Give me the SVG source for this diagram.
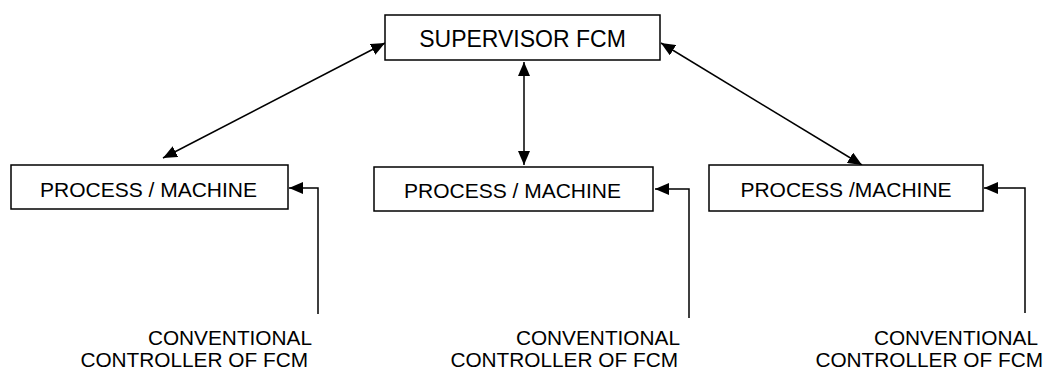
<svg xmlns="http://www.w3.org/2000/svg" width="1047" height="371" viewBox="0 0 1047 371">
<style>
.box{fill:#fff;stroke:#000;stroke-width:1.5}
.lbl{font-family:"Liberation Sans",Arial,sans-serif;fill:#000}
.bt{font-size:21px;text-anchor:middle}
.ct{font-size:20.8px;text-anchor:end}
.con{fill:none;stroke:#000;stroke-width:1.5}
</style>
<defs>
<marker id="ah" markerUnits="userSpaceOnUse" markerWidth="15" markerHeight="12" refX="14" refY="6" orient="auto-start-reverse" viewBox="0 0 15 12">
<path d="M0,0 L14,6 L0,12 z" fill="#000"/>
</marker>
</defs>
<rect width="1047" height="371" fill="#fff"/>
<g id="connectors">
<line class="con" x1="385" y1="43" x2="163" y2="158" marker-start="url(#ah)" marker-end="url(#ah)"/>
<line class="con" x1="524" y1="62" x2="524" y2="165" marker-start="url(#ah)" marker-end="url(#ah)"/>
<line class="con" x1="661" y1="43" x2="862" y2="165" marker-start="url(#ah)" marker-end="url(#ah)"/>
<polyline class="con" points="318,314 318,188 289,188" marker-end="url(#ah)"/>
<polyline class="con" points="689,318 689,189 655,189" marker-end="url(#ah)"/>
<polyline class="con" points="1025,313 1025,188 984,188" marker-end="url(#ah)"/>
</g>
<g id="supervisor">
<rect class="box" x="385" y="15" width="275" height="45"/>
<text class="lbl bt" x="522.5" y="47" style="font-size:23px">SUPERVISOR FCM</text>
</g>
<g id="process1">
<rect class="box" x="11" y="165" width="277" height="44"/>
<text class="lbl bt" x="148.5" y="197">PROCESS / MACHINE</text>
</g>
<g id="process2">
<rect class="box" x="374" y="167" width="279" height="44"/>
<text class="lbl bt" x="512.5" y="198">PROCESS / MACHINE</text>
</g>
<g id="process3">
<rect class="box" x="709" y="165" width="274" height="46"/>
<text class="lbl bt" x="846" y="197">PROCESS /MACHINE</text>
</g>
<g id="controller1">
<text class="lbl ct" x="312" y="345">CONVENTIONAL</text>
<text class="lbl ct" x="308" y="367">CONTROLLER OF FCM</text>
</g>
<g id="controller2">
<text class="lbl ct" x="680" y="345">CONVENTIONAL</text>
<text class="lbl ct" x="678" y="367">CONTROLLER OF FCM</text>
</g>
<g id="controller3">
<text class="lbl ct" x="1038" y="345">CONVENTIONAL</text>
<text class="lbl ct" x="1043" y="367">CONTROLLER OF FCM</text>
</g>
</svg>
